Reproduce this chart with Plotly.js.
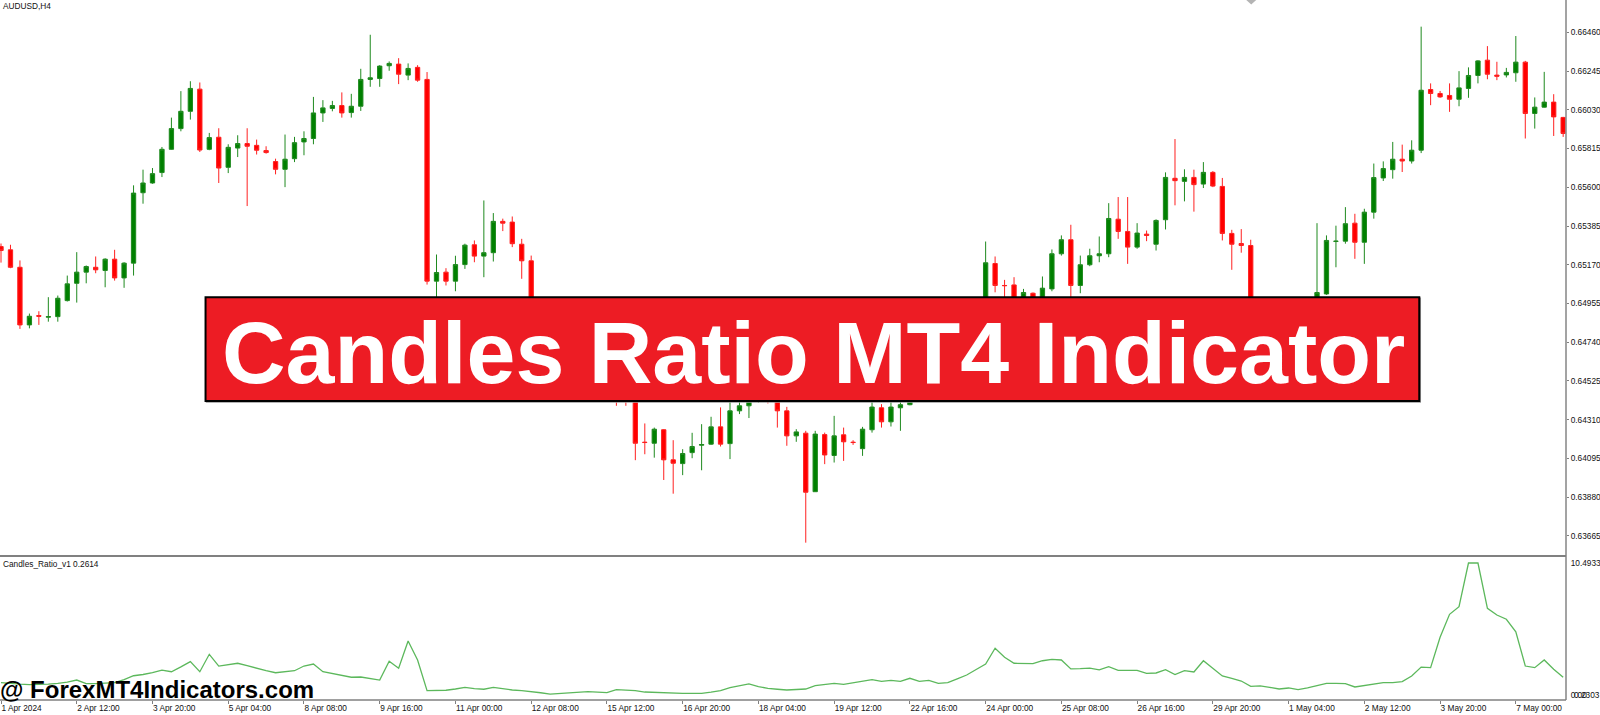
<!DOCTYPE html>
<html><head><meta charset="utf-8">
<script src="https://cdn.plot.ly/plotly-3.0.1.min.js"></script>
<style>html,body{margin:0;padding:0;background:#fff;overflow:hidden}#chart{width:1600px;height:715px}</style>
</head><body><div id="chart"></div>
<script>
const openVals = [0.65271,0.65253,0.65156,0.64836,0.64888,0.64879,0.64882,0.64971,0.65067,0.65129,
0.65156,0.65138,0.65201,0.65097,0.65179,0.65570,0.65624,0.65682,0.65811,0.65926,
0.66022,0.66145,0.65811,0.65878,0.65711,0.65818,0.65843,0.65833,0.65804,0.65743,
0.65700,0.65759,0.65852,0.65871,0.66013,0.66038,0.66054,0.66015,0.66050,0.66199,
0.66204,0.66275,0.66284,0.66223,0.66266,0.66199,0.65079,0.65129,0.65079,0.65171,
0.65281,0.65218,0.65237,0.65411,0.65407,0.65284,0.65192,0.64749,0.64832,0.64721,
0.64637,0.64693,0.64571,0.64626,0.64498,0.64537,0.64482,0.64437,0.64185,0.64179,
0.64254,0.64087,0.64066,0.64127,0.64168,0.64174,0.64270,0.64177,0.64359,0.64387,
0.64415,0.64482,0.64426,0.64359,0.64220,0.64235,0.63910,0.64227,0.64111,0.64226,
0.64185,0.64149,0.64254,0.64376,0.64298,0.64376,0.64393,0.64437,0.64526,0.64482,
0.64610,0.64693,0.64648,0.64776,0.64916,0.65177,0.65055,0.65058,0.64971,0.65012,
0.64971,0.65036,0.65231,0.65309,0.65055,0.65170,0.65220,0.65231,0.65423,0.65355,
0.65268,0.65340,0.65284,0.65420,0.65650,0.65633,0.65655,0.65618,0.65683,0.65605,
0.65344,0.65288,0.65277,0.64804,0.64665,0.64554,0.64626,0.64571,0.64721,0.64888,
0.65008,0.65299,0.65301,0.65401,0.65295,0.65462,0.65652,0.65698,0.65756,0.65746,
0.65806,0.66143,0.66121,0.66110,0.66089,0.66149,0.66221,0.66306,0.66223,0.66224,
0.66236,0.66295,0.66010,0.66045,0.66073,0.65988];
const highVals = [0.65288,0.65281,0.65194,0.64899,0.64912,0.64990,0.64999,0.65110,0.65240,0.65166,
0.65216,0.65206,0.65253,0.65184,0.65611,0.65698,0.65707,0.65824,0.65987,0.66134,
0.66189,0.66182,0.65902,0.65928,0.65839,0.65889,0.65928,0.65865,0.65828,0.65759,
0.65893,0.65880,0.65911,0.66102,0.66084,0.66080,0.66127,0.66119,0.66258,0.66447,
0.66278,0.66299,0.66317,0.66288,0.66278,0.66240,0.65227,0.65151,0.65220,0.65287,
0.65305,0.65527,0.65457,0.65426,0.65438,0.65314,0.65221,0.64871,0.64860,0.64749,
0.64732,0.64715,0.64660,0.64648,0.64571,0.64582,0.64526,0.64470,0.64289,0.64266,
0.64257,0.64196,0.64146,0.64237,0.64285,0.64326,0.64378,0.64426,0.64426,0.64459,
0.64515,0.64515,0.64470,0.64381,0.64257,0.64248,0.64248,0.64238,0.64331,0.64266,
0.64196,0.64270,0.64426,0.64396,0.64426,0.64437,0.64470,0.64554,0.64571,0.64637,
0.64721,0.64749,0.64815,0.64943,0.65299,0.65216,0.65086,0.65101,0.65036,0.65016,
0.65105,0.65255,0.65333,0.65392,0.65221,0.65259,0.65327,0.65512,0.65546,0.65546,
0.65401,0.65360,0.65422,0.65683,0.65868,0.65700,0.65698,0.65740,0.65690,0.65652,
0.65364,0.65368,0.65309,0.64849,0.64693,0.64648,0.64665,0.64749,0.64927,0.65401,
0.65333,0.65387,0.65490,0.65453,0.65481,0.65732,0.65744,0.65852,0.65837,0.65861,
0.66492,0.66177,0.66135,0.66177,0.66245,0.66266,0.66306,0.66384,0.66297,0.66263,
0.66440,0.66302,0.66099,0.66241,0.66117,0.65991];
const lowVals = [0.65182,0.65151,0.64814,0.64817,0.64836,0.64854,0.64854,0.64966,0.64960,0.65067,
0.65123,0.65045,0.65082,0.65042,0.65110,0.65509,0.65620,0.65657,0.65809,0.65911,
0.65976,0.65796,0.65806,0.65624,0.65679,0.65768,0.65496,0.65782,0.65787,0.65672,
0.65601,0.65740,0.65778,0.65839,0.65963,0.66022,0.65987,0.65987,0.66024,0.66158,
0.66158,0.66247,0.66173,0.66195,0.66186,0.65060,0.64990,0.65055,0.65023,0.65147,
0.65184,0.65101,0.65188,0.65357,0.65268,0.65092,0.64721,0.64704,0.64682,0.64610,
0.64593,0.64537,0.64526,0.64459,0.64437,0.64387,0.64387,0.64085,0.64118,0.64099,
0.63975,0.63899,0.64002,0.64096,0.64029,0.64170,0.64161,0.64091,0.64341,0.64319,
0.64404,0.64400,0.64266,0.64165,0.64187,0.63627,0.63909,0.64063,0.64072,0.64081,
0.64170,0.64109,0.64238,0.64266,0.64272,0.64248,0.64390,0.64415,0.64443,0.64459,
0.64582,0.64610,0.64626,0.64749,0.64888,0.65017,0.64990,0.64943,0.64954,0.64943,
0.64943,0.65023,0.65221,0.64990,0.65012,0.65162,0.65184,0.65212,0.65314,0.65175,
0.65259,0.65301,0.65249,0.65366,0.65500,0.65522,0.65465,0.65596,0.65601,0.65305,
0.65142,0.65237,0.64760,0.64610,0.64498,0.64515,0.64526,0.64548,0.64693,0.64860,
0.65003,0.65156,0.65287,0.65203,0.65175,0.65426,0.65635,0.65648,0.65685,0.65732,
0.65790,0.66056,0.66097,0.66019,0.66050,0.66097,0.66177,0.66200,0.66195,0.66210,
0.66186,0.65871,0.65926,0.66043,0.65885,0.65880];
const closeVals = [0.65249,0.65156,0.64836,0.64884,0.64884,0.64882,0.64984,0.65064,0.65129,0.65160,
0.65142,0.65201,0.65097,0.65179,0.65568,0.65624,0.65676,0.65811,0.65926,0.66022,
0.66149,0.65807,0.65876,0.65707,0.65822,0.65843,0.65828,0.65806,0.65793,0.65700,
0.65756,0.65848,0.65871,0.66013,0.66041,0.66054,0.66013,0.66050,0.66199,0.66208,
0.66273,0.66288,0.66228,0.66260,0.66195,0.65079,0.65127,0.65079,0.65171,0.65279,
0.65218,0.65237,0.65411,0.65401,0.65287,0.65192,0.64749,0.64832,0.64721,0.64637,
0.64693,0.64571,0.64626,0.64498,0.64537,0.64459,0.64437,0.64179,0.64183,0.64257,
0.64087,0.64068,0.64122,0.64161,0.64172,0.64270,0.64174,0.64359,0.64387,0.64426,
0.64482,0.64426,0.64359,0.64220,0.64242,0.63907,0.64230,0.64114,0.64220,0.64187,
0.64183,0.64257,0.64380,0.64298,0.64380,0.64393,0.64437,0.64526,0.64482,0.64610,
0.64693,0.64648,0.64776,0.64916,0.65181,0.65055,0.65054,0.64971,0.65016,0.64971,
0.65040,0.65231,0.65309,0.65055,0.65170,0.65220,0.65231,0.65427,0.65355,0.65268,
0.65346,0.65333,0.65416,0.65655,0.65637,0.65655,0.65615,0.65683,0.65607,0.65344,
0.65284,0.65277,0.64804,0.64665,0.64554,0.64626,0.64571,0.64721,0.64888,0.65016,
0.65305,0.65301,0.65398,0.65295,0.65462,0.65654,0.65704,0.65756,0.65746,0.65806,
0.66139,0.66121,0.66102,0.66089,0.66152,0.66221,0.66302,0.66228,0.66217,0.66238,
0.66295,0.66010,0.66045,0.66073,0.65991,0.65899];
const ratioVals = [1.00,0.92,0.88,0.85,0.85,0.88,0.95,1.05,1.21,0.92,
0.92,0.95,1.00,1.25,1.55,1.65,1.79,2.00,1.87,2.25,
2.67,1.87,3.25,2.32,2.46,2.54,2.35,2.14,1.95,1.79,
1.85,1.95,2.32,2.48,1.87,1.74,1.59,1.43,1.45,1.35,
1.21,2.70,2.14,4.31,2.80,0.37,0.37,0.40,0.50,0.63,
0.53,0.48,0.63,0.50,0.42,0.37,0.30,0.20,0.10,0.15,
0.21,0.25,0.29,0.25,0.21,0.45,0.40,0.37,0.26,0.22,
0.20,0.18,0.16,0.16,0.16,0.25,0.37,0.61,0.75,0.90,
0.69,0.55,0.48,0.42,0.46,0.50,0.76,0.85,0.95,0.87,
1.00,1.16,1.24,1.11,1.19,1.11,1.35,1.11,1.19,0.95,
1.00,1.30,1.61,2.05,2.48,3.73,3.01,2.54,2.54,2.51,
2.74,2.85,2.80,2.09,2.11,2.16,2.01,2.27,1.98,1.98,
1.98,1.74,1.77,2.03,1.64,1.95,1.85,2.74,2.14,1.53,
1.35,1.13,0.71,0.74,0.63,0.50,0.58,0.45,0.58,0.74,
0.95,0.95,0.92,0.66,0.79,0.92,1.00,1.00,1.08,1.53,
2.24,2.19,4.60,6.42,7.03,10.49,10.49,6.90,6.37,6.03,
5.04,2.32,2.19,2.80,2.06,1.43];
const timeTickIdx = [0,8,16,24,32,40,48,56,64,72,80,88,96,104,112,120,128,136,144,152,160];
const timeTickLabels = ['1 Apr 2024','2 Apr 12:00','3 Apr 20:00','5 Apr 04:00','8 Apr 08:00','9 Apr 16:00',
'11 Apr 00:00','12 Apr 08:00','15 Apr 12:00','16 Apr 20:00','18 Apr 04:00','19 Apr 12:00','22 Apr 16:00',
'24 Apr 00:00','25 Apr 08:00','26 Apr 16:00','29 Apr 20:00','1 May 04:00','2 May 12:00','3 May 20:00','7 May 00:00'];
const priceTicks = [0.66460,0.66245,0.66030,0.65815,0.65600,0.65385,0.65170,0.64955,0.64740,0.64525,0.64310,0.64095,0.63880,0.63665];
const ratioTicks = [10.4933,0];
const ratioTickLabels = ['10.4933','0.00'];
const ratioMinLabel = '0.2303';

const barIdx = openVals.map((_, i) => i);
const W = 1565.7, H = 700;
const px = v => v / W;
const py = v => (H - v) / H;
const FONT = 'Liberation Sans, Arial, sans-serif';
const SMALL = 8.3;

const candles = {
  type: 'candlestick', x: barIdx, open: openVals, high: highVals, low: lowVals, close: closeVals,
  xaxis: 'x', yaxis: 'y', whiskerwidth: 0, hoverinfo: 'skip',
  increasing: {line: {color: '#1f8a1f', width: 1}, fillcolor: '#008000'},
  decreasing: {line: {color: '#ff2020', width: 1}, fillcolor: '#ff0000'}
};
const ratio = {
  type: 'scatter', mode: 'lines', x: barIdx, y: ratioVals, xaxis: 'x', yaxis: 'y2',
  line: {color: '#5cb85c', width: 1.3}, hoverinfo: 'skip'
};

const layout = {
  width: 1600, height: 715,
  margin: {l: 0, r: 1600 - W, t: 0, b: 715 - H, pad: 0},
  paper_bgcolor: '#ffffff', plot_bgcolor: '#ffffff',
  showlegend: false, boxgap: 0.35,
  xaxis: {
    anchor: 'y2', range: [-0.106, 165.3], showgrid: false, zeroline: false, showline: false,
    rangeslider: {visible: false}, fixedrange: true,
    tickmode: 'array', tickvals: timeTickIdx, ticktext: timeTickLabels,
    ticks: 'outside', ticklen: 3, tickcolor: '#808080', tickwidth: 1,
    ticklabelposition: 'outside right',
    tickfont: {family: FONT, size: SMALL, color: '#111'}
  },
  yaxis: {
    domain: [py(556), 1], range: [0.63553, 0.66640], side: 'right',
    showgrid: false, zeroline: false, showline: false, fixedrange: true,
    tickmode: 'array', tickvals: priceTicks, ticktext: priceTicks.map(v => v.toFixed(5)),
    ticks: 'outside', ticklen: 2, tickcolor: '#808080',
    tickfont: {family: FONT, size: SMALL, color: '#111'}
  },
  yaxis2: {
    domain: [0, py(557)], range: [-0.373, 10.967], side: 'right',
    showgrid: false, zeroline: false, showline: false, fixedrange: true,
    tickmode: 'array', tickvals: ratioTicks, ticktext: ratioTickLabels,
    ticks: 'outside', ticklen: 2, tickcolor: 'rgba(0,0,0,0)',
    tickfont: {family: FONT, size: SMALL, color: '#111'}
  },
  shapes: [
    {type: 'line', xref: 'paper', yref: 'paper', x0: 1, x1: 1, y0: 0, y1: 1, line: {color: '#8c8c8c', width: 1.6}},
    {type: 'line', xref: 'paper', yref: 'paper', x0: 0, x1: 1, y0: py(556), y1: py(556), line: {color: '#808080', width: 2.2}},
    {type: 'line', xref: 'paper', yref: 'paper', x0: 0, x1: 1, y0: 0, y1: 0, line: {color: '#808080', width: 1.6}},
    {type: 'path', xref: 'paper', yref: 'paper',
     path: 'M ' + px(1246) + ' 1 L ' + px(1256) + ' 1 L ' + px(1251) + ' ' + py(4.5) + ' Z',
     fillcolor: '#b4b4b4', line: {width: 0}},
    {type: 'rect', xref: 'paper', yref: 'paper', x0: px(206.5), x1: px(1420), y0: py(402), y1: py(298.3),
     fillcolor: 'rgba(0,0,0,0)', line: {color: '#9a9a9a', width: 1.5}},
    {type: 'rect', xref: 'paper', yref: 'paper', x0: px(205.5), x1: px(1419), y0: py(401), y1: py(297.3),
     fillcolor: '#ED1C24', line: {color: '#000000', width: 2}}
  ],
  annotations: [
    {xref: 'paper', yref: 'paper', x: px(813), y: py(352), xanchor: 'center', yanchor: 'middle',
     text: 'Candles Ratio MT4 Indicator', showarrow: false,
     font: {family: FONT, size: 88, color: '#ffffff', weight: 700}},
    {xref: 'paper', yref: 'paper', x: px(-2), y: py(689.5), xanchor: 'left', yanchor: 'middle',
     text: '@ ForexMT4Indicators.com', showarrow: false,
     font: {family: FONT, size: 24, color: '#000000', weight: 700}},
    {xref: 'paper', yref: 'paper', x: px(0.5), y: py(6.5), xanchor: 'left', yanchor: 'middle',
     text: 'AUDUSD,H4', showarrow: false, font: {family: FONT, size: SMALL, color: '#111'}},
    {xref: 'paper', yref: 'paper', x: px(0.5), y: py(564), xanchor: 'left', yanchor: 'middle',
     text: 'Candles_Ratio_v1 0.2614', showarrow: false, font: {family: FONT, size: SMALL, color: '#111'}},
    {xref: 'paper', yref: 'paper', x: px(1572), y: py(694.5), xanchor: 'left', yanchor: 'middle',
     text: ratioMinLabel, showarrow: false, font: {family: FONT, size: SMALL, color: '#111'}}
  ]
};

Plotly.newPlot('chart', [candles, ratio], layout, {staticPlot: true, displayModeBar: false});
</script>
</body></html>
